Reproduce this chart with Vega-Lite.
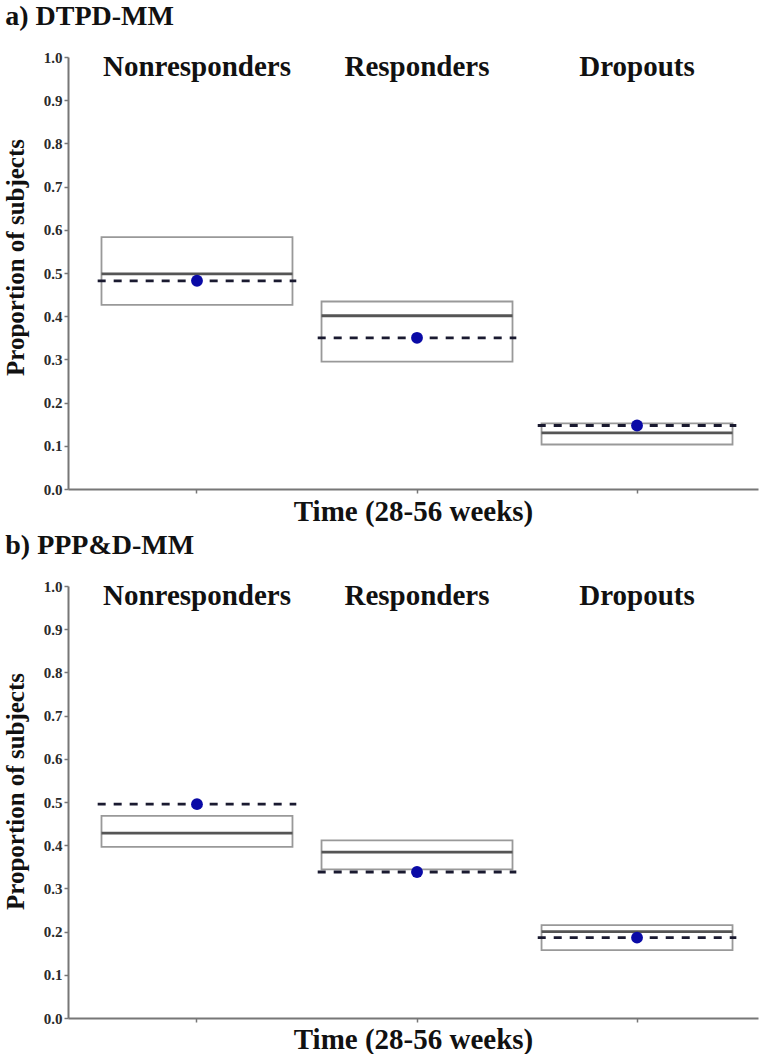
{
  "$schema": "https://vega.github.io/schema/vega-lite/v6.json",
  "padding": {"left": 3, "top": 3, "right": 2, "bottom": 3},
  "spacing": 5,
  "config": {
    "view": {"stroke": null},
    "font": "Liberation Serif, Times New Roman, Times, serif",
    "title": {"font": "Liberation Serif, Times New Roman, Times, serif", "fontWeight": "bold", "fontSize": 28, "color": "#111", "anchor": "start", "frame": "bounds", "offset": 19, "dx": 2},
    "axis": {
      "labelFont": "Liberation Serif, Times New Roman, Times, serif", "labelFontWeight": "bold", "labelFontSize": 15, "labelColor": "#2a2a2a",
      "titleFont": "Liberation Serif, Times New Roman, Times, serif", "titleFontWeight": "bold", "titleColor": "#111",
      "domainColor": "#777", "domainWidth": 2, "tickColor": "#777", "tickWidth": 1.5, "tickSize": 4, "grid": false
    }
  },
  "vconcat": [
    {
      "title": {"text": "a) DTPD-MM"},
      "width": 690,
      "height": 432,
      "data": {"values": [
        {"group": "Nonresponders", "lo": 0.426, "hi": 0.583, "med": 0.498, "obs": 0.482},
        {"group": "Responders", "lo": 0.295, "hi": 0.434, "med": 0.401, "obs": 0.350},
        {"group": "Dropouts", "lo": 0.103, "hi": 0.152, "med": 0.130, "obs": 0.147}
      ]},
      "encoding": {
        "x": {"field": "group", "type": "nominal", "sort": null,
          "scale": {"type": "band", "paddingInner": 0.132, "paddingOuter": 0.134, "align": 0.568},
          "axis": {"labels": false, "title": "Time (28-56 weeks)", "titleFontSize": 29, "titlePadding": 4}}
      },
      "layer": [
        {"mark": {"type": "bar", "fill": "white", "stroke": "#999", "strokeWidth": 1.8},
         "encoding": {
           "y": {"field": "hi", "type": "quantitative", "scale": {"domain": [0, 1], "nice": false},
             "axis": {"values": [0, 0.1, 0.2, 0.3, 0.4, 0.5, 0.6, 0.7, 0.8, 0.9, 1.0], "format": ".1f", "title": "Proportion of subjects", "titleFontSize": 25, "titlePadding": 15, "titleY": 200}},
           "y2": {"field": "lo"}
         }},
        {"mark": {"type": "rule", "color": "#555", "strokeWidth": 2.8},
         "encoding": {
           "x": {"field": "group", "type": "nominal", "sort": null, "bandPosition": 0},
           "x2": {"field": "group", "bandPosition": 1},
           "y": {"field": "med", "type": "quantitative"}
         }},
        {"mark": {"type": "rule", "color": "#1a1a30", "strokeWidth": 2.8, "strokeDash": [8, 8]},
         "encoding": {
           "x": {"field": "group", "type": "nominal", "sort": null, "bandPosition": -0.02},
           "x2": {"field": "group", "bandPosition": 1.02},
           "y": {"field": "obs", "type": "quantitative"}
         }},
        {"mark": {"type": "point", "filled": true, "color": "#0a0aa6", "opacity": 1, "size": 140},
         "encoding": {
           "y": {"field": "obs", "type": "quantitative"}
         }},
        {"mark": {"type": "text", "font": "Liberation Serif, Times New Roman, Times, serif", "fontWeight": "bold", "fontSize": 29, "color": "#111", "baseline": "alphabetic", "align": "center"},
         "encoding": {
           "y": {"datum": 0.955, "type": "quantitative"},
           "text": {"field": "group"}
         }}
      ]
    },
    {
      "title": {"text": "b) PPP&D-MM"},
      "width": 690,
      "height": 432,
      "data": {"values": [
        {"group": "Nonresponders", "lo": 0.396, "hi": 0.468, "med": 0.428, "obs": 0.495},
        {"group": "Responders", "lo": 0.344, "hi": 0.411, "med": 0.384, "obs": 0.338},
        {"group": "Dropouts", "lo": 0.157, "hi": 0.215, "med": 0.200, "obs": 0.186}
      ]},
      "encoding": {
        "x": {"field": "group", "type": "nominal", "sort": null,
          "scale": {"type": "band", "paddingInner": 0.132, "paddingOuter": 0.134, "align": 0.568},
          "axis": {"labels": false, "title": "Time (28-56 weeks)", "titleFontSize": 29, "titlePadding": 3}}
      },
      "layer": [
        {"mark": {"type": "bar", "fill": "white", "stroke": "#999", "strokeWidth": 1.8},
         "encoding": {
           "y": {"field": "hi", "type": "quantitative", "scale": {"domain": [0, 1], "nice": false},
             "axis": {"values": [0, 0.1, 0.2, 0.3, 0.4, 0.5, 0.6, 0.7, 0.8, 0.9, 1.0], "format": ".1f", "title": "Proportion of subjects", "titleFontSize": 25, "titlePadding": 15, "titleY": 205}},
           "y2": {"field": "lo"}
         }},
        {"mark": {"type": "rule", "color": "#555", "strokeWidth": 2.8},
         "encoding": {
           "x": {"field": "group", "type": "nominal", "sort": null, "bandPosition": 0},
           "x2": {"field": "group", "bandPosition": 1},
           "y": {"field": "med", "type": "quantitative"}
         }},
        {"mark": {"type": "rule", "color": "#1a1a30", "strokeWidth": 2.8, "strokeDash": [8, 8]},
         "encoding": {
           "x": {"field": "group", "type": "nominal", "sort": null, "bandPosition": -0.02},
           "x2": {"field": "group", "bandPosition": 1.02},
           "y": {"field": "obs", "type": "quantitative"}
         }},
        {"mark": {"type": "point", "filled": true, "color": "#0a0aa6", "opacity": 1, "size": 140},
         "encoding": {
           "y": {"field": "obs", "type": "quantitative"}
         }},
        {"mark": {"type": "text", "font": "Liberation Serif, Times New Roman, Times, serif", "fontWeight": "bold", "fontSize": 29, "color": "#111", "baseline": "alphabetic", "align": "center"},
         "encoding": {
           "y": {"datum": 0.955, "type": "quantitative"},
           "text": {"field": "group"}
         }}
      ]
    }
  ]
}
